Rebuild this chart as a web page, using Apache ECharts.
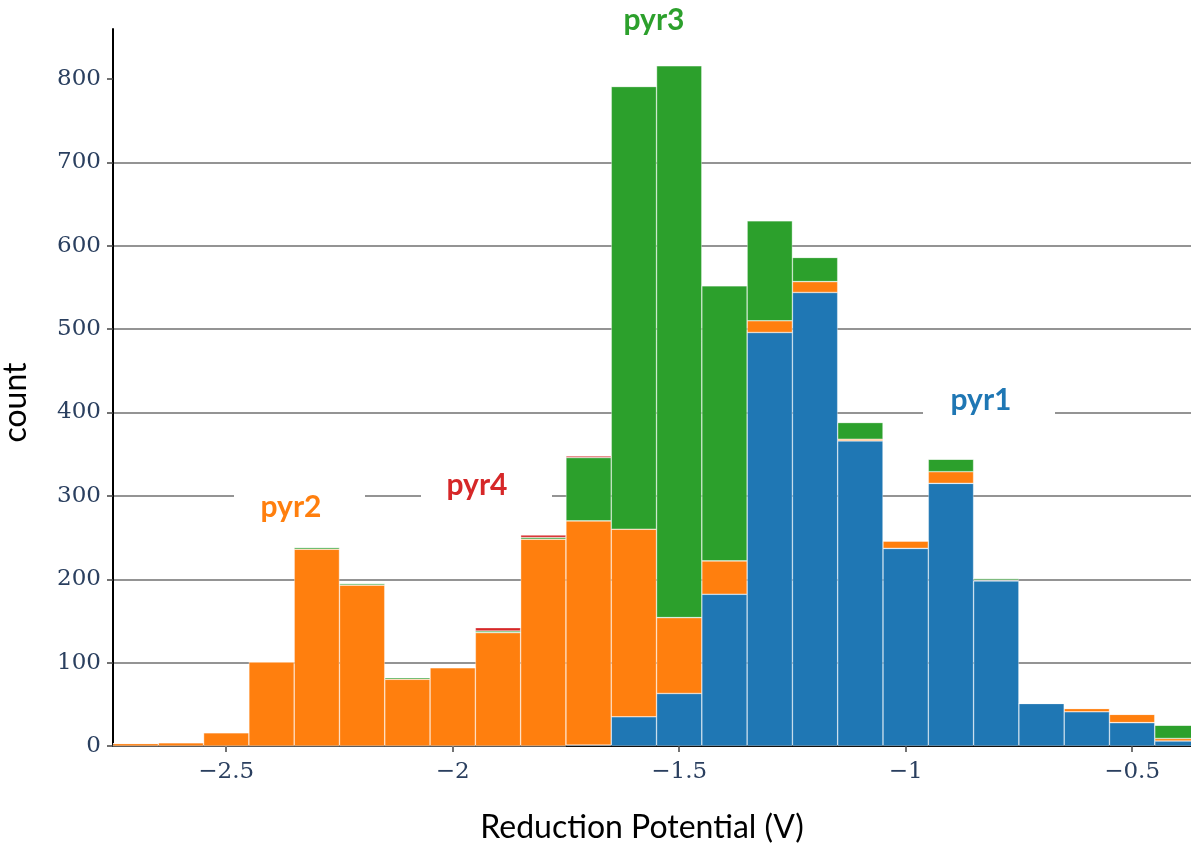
<!DOCTYPE html>
<html>
<head>
<meta charset="utf-8">
<script src="https://cdn.jsdelivr.net/npm/echarts@6/dist/echarts.min.js"></script>
<style>
  html, body { margin: 0; padding: 0; background: #fff; }
  #chart { width: 1191px; height: 844px; }
</style>
</head>
<body>
<div id="chart"></div>
<script>
// bin centres, 0.1 V wide bins
const binCenters = [-2.7, -2.6, -2.5, -2.4, -2.3, -2.2, -2.1, -2.0, -1.9, -1.8, -1.7, -1.6,
  -1.5, -1.4, -1.3, -1.2, -1.1, -1.0, -0.9, -0.8, -0.7, -0.6, -0.5, -0.4]
const pyr1 = [0, 0, 0, 0, 0, 0, 0, 0, 0, 0, 1, 35, 63, 182, 496, 544, 366, 237, 315, 198, 51, 41, 28, 6]
const pyr2 = [3, 4, 16, 101, 236, 193, 80, 94, 136, 248, 269, 225, 91, 40, 14, 13, 2, 9, 14, 1, 0, 4, 10, 3]
const pyr3 = [0, 0, 0, 0, 2, 2, 2, 0, 2, 2, 76, 531, 662, 330, 120, 29, 20, 0, 15, 2, 0, 0, 0, 16]
const pyr4 = [0, 0, 0, 0, 0, 0, 0, 0, 4, 3, 2, 0, 0, 0, 0, 0, 0, 0, 0, 0, 0, 0, 0, 0]
const xTicks = [-2.5, -2, -1.5, -1, -0.5]
const yTicks = [0, 100, 200, 300, 400, 500, 600, 700, 800]

const colors = { pyr1: '#1f77b4', pyr2: '#ff7f0e', pyr3: '#2ca02c', pyr4: '#d62728' }
const tickFont = { fontFamily: 'DejaVu Serif', fontSize: 23, color: '#2a3f5f' }

function binSeries(name, values) {
  return {
    name: name,
    type: 'bar',
    stack: 'all',
    barWidth: '100%',
    // count first so it is the stacked dimension, bin centre mapped to x
    data: binCenters.map((c, i) => [values[i], c]),
    encode: { x: 1, y: 0 },
    itemStyle: {
      color: colors[name],
      borderColor: 'rgba(255,255,255,0.6)',
      borderWidth: 0.6
    }
  }
}

const chart = echarts.init(document.getElementById('chart'))
chart.setOption({
  backgroundColor: '#fff',
  animation: false,
  grid: { left: 113, right: 0, top: 29, bottom: 98, outerBoundsMode: 'none', containLabel: false },
  xAxis: {
    type: 'value',
    min: -2.75,
    max: -0.37,
    name: 'Reduction Potential (V)',
    nameLocation: 'middle',
    nameGap: 66,
    nameTextStyle: { fontFamily: 'Lato', fontSize: 32, color: '#000', padding: [0, 20, 0, 0] },
    axisLine: { show: true, onZero: false, lineStyle: { color: '#000', width: 2 } },
    axisTick: { show: true, length: 6, customValues: xTicks, lineStyle: { color: '#444', width: 1.5 } },
    axisLabel: {
      customValues: xTicks,
      margin: 15,
      ...tickFont,
      formatter: v => String(v).replace('-', '\u2212')
    },
    splitLine: { show: false }
  },
  yAxis: {
    type: 'value',
    min: 0,
    max: 860,
    interval: 100,
    name: 'count',
    nameLocation: 'middle',
    nameGap: 81,
    nameTextStyle: { fontFamily: 'Lato', fontSize: 32, color: '#000', padding: [0, 30, 0, 0] },
    axisLine: { show: true, lineStyle: { color: '#000', width: 2 } },
    axisTick: { show: true, length: 6, customValues: yTicks, lineStyle: { color: '#444', width: 1.5 } },
    axisLabel: { customValues: yTicks, margin: 12, ...tickFont },
    splitLine: { show: true, showMaxLine: false, lineStyle: { color: '#707070', width: 1.5 } }
  },
  series: [
    binSeries('pyr1', pyr1),
    binSeries('pyr2', pyr2),
    binSeries('pyr3', pyr3),
    binSeries('pyr4', pyr4)
  ],
  graphic: [
    // white boxes behind the labels hide the grid lines
    { type: 'rect', z: 50, shape: { x: 234, y: 490, width: 131, height: 12 }, style: { fill: '#fff' } },
    { type: 'rect', z: 50, shape: { x: 421, y: 490, width: 131, height: 12 }, style: { fill: '#fff' } },
    { type: 'rect', z: 50, shape: { x: 923, y: 406, width: 132, height: 12 }, style: { fill: '#fff' } },
    { type: 'text', z: 51, x: 291, y: 507, style: { text: 'pyr2', fill: colors.pyr2, font: 'bold 30px Lato', textAlign: 'center', textVerticalAlign: 'middle' } },
    { type: 'text', z: 51, x: 477, y: 485, style: { text: 'pyr4', fill: colors.pyr4, font: 'bold 30px Lato', textAlign: 'center', textVerticalAlign: 'middle' } },
    { type: 'text', z: 51, x: 654, y: 20, style: { text: 'pyr3', fill: colors.pyr3, font: 'bold 30px Lato', textAlign: 'center', textVerticalAlign: 'middle' } },
    { type: 'text', z: 51, x: 981, y: 400, style: { text: 'pyr1', fill: colors.pyr1, font: 'bold 30px Lato', textAlign: 'center', textVerticalAlign: 'middle' } }
  ]
})
</script>
</body>
</html>
